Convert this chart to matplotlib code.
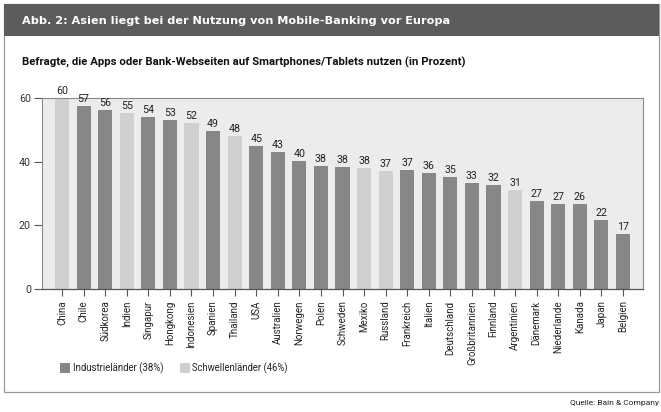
import matplotlib
matplotlib.use("Agg")
import matplotlib.pyplot as plt
from matplotlib.patches import Rectangle

countries = ["China", "Chile", "Südkorea", "Indien", "Singapur", "Hongkong", "Indonesien",
             "Spanien", "Thailand", "USA", "Australien", "Norwegen", "Polen", "Schweden",
             "Mexiko", "Russland", "Frankreich", "Italien", "Deutschland", "Großbritannien",
             "Finnland", "Argentinien", "Dänemark", "Niederlande", "Kanada", "Japan", "Belgien"]
values = [60, 57.5, 56.1, 55.1, 53.9, 53.0, 52.0, 49.7, 47.9, 44.9, 42.9, 40.2, 38.6, 38.3,
          37.9, 37.1, 37.3, 36.3, 35.2, 33.3, 32.7, 31.1, 27.6, 26.8, 26.6, 21.7, 17.4]
labels = ["60", "57", "56", "55", "54", "53", "52", "49", "48", "45", "43", "40", "38", "38",
          "38", "37", "37", "36", "35", "33", "32", "31", "27", "27", "26", "22", "17"]
group = ["S", "I", "I", "S", "I", "I", "S", "I", "S", "I", "I", "I", "I", "I",
         "S", "S", "I", "I", "I", "I", "I", "S", "I", "I", "I", "I", "I"]
legend_labels = {"I": "Industrieländer (38%)", "S": "Schwellenländer (46%)"}
yticks = [0, 20, 40, 60]
title = "Abb. 2: Asien liegt bei der Nutzung von Mobile-Banking vor Europa"
subtitle = "Befragte, die Apps oder Bank-Webseiten auf Smartphones/Tablets nutzen (in Prozent)"
source = "Quelle: Bain & Company"

BODY = ["Roboto", "DejaVu Sans"]
plt.rcParams["font.family"] = BODY

colors = {"I": "#878787", "S": "#d0d0d0"}
W, H = 661, 412
fig = plt.figure(figsize=(W / 100, H / 100), dpi=100)
fig.patch.set_facecolor("white")
renderer = fig.canvas.get_renderer()

def fx(x): return x / W
def fy(y): return 1 - y / H

def fit_w(t, target):
    w = t.get_window_extent(renderer).width
    t.set_fontsize(t.get_fontsize() * target / w)

# outer frame
fig.patches.append(Rectangle((fx(3.5), fy(392)), fx(655), 388.5 / H, transform=fig.transFigure,
                             facecolor="none", edgecolor="#9a9a9a", linewidth=0.9, zorder=0))
# title bar
fig.patches.append(Rectangle((fx(3.5), fy(35.5)), fx(655), 32 / H, transform=fig.transFigure,
                             facecolor="#5c5c5c", edgecolor="none", zorder=1))
t = fig.text(fx(22), fy(21), title, color="white", fontsize=8.5, fontweight="bold",
             va="center", ha="left", family=["DejaVu Sans"])
fit_w(t, 426)
t = fig.text(fx(22), fy(62), subtitle, color="#111111", fontsize=8, fontweight="bold",
             va="center", ha="left")
fit_w(t, 441)
t = fig.text(fx(659), fy(403), source, fontsize=6.3, ha="right", va="center", color="#222222")
fit_w(t, 88)

ax = fig.add_axes([fx(42), fy(289.3), fx(643 - 42), (289.3 - 97.7) / H])
ax.set_facecolor("#ebecec")
x = list(range(len(countries)))
ax.bar(x, values, width=0.66, color=[colors[g] for g in group], zorder=2)
for xi, v, lab in zip(x, values, labels):
    ax.text(xi, v + 2.2, lab, ha="center", va="center", fontsize=7.7, color="#222222",
            zorder=3, clip_on=False)

ax.set_xlim(-0.93, len(countries) - 1 + 0.93)
ax.set_ylim(0, 60)
ax.set_yticks(yticks)
ax.set_xticks(x)
ax.set_xticklabels(countries, rotation=90, fontsize=7.0, color="#222222")
ax.tick_params(axis="y", labelsize=7.7, labelcolor="#333333", color="#555555", length=6,
               width=0.8, pad=2)
ax.tick_params(axis="x", length=5, width=0.8, color="#555555", pad=3)
for s in ["top", "right", "left"]:
    ax.spines[s].set_color("#8a8a8a")
    ax.spines[s].set_linewidth(0.8)
ax.spines["bottom"].set_color("#555555")
ax.spines["bottom"].set_linewidth(0.9)

# legend
for key, xs, tx, tw in [("I", 60, 73, 91), ("S", 180, 192, 96)]:
    fig.patches.append(Rectangle((fx(xs), fy(373)), fx(10), 10 / H, transform=fig.transFigure,
                                 facecolor=colors[key], edgecolor="none"))
    lt = fig.text(fx(tx), fy(368), legend_labels[key], fontsize=7.3, va="center", ha="left",
                  color="#222222")
    fit_w(lt, tw)

fig.savefig("out.png", dpi=100)
